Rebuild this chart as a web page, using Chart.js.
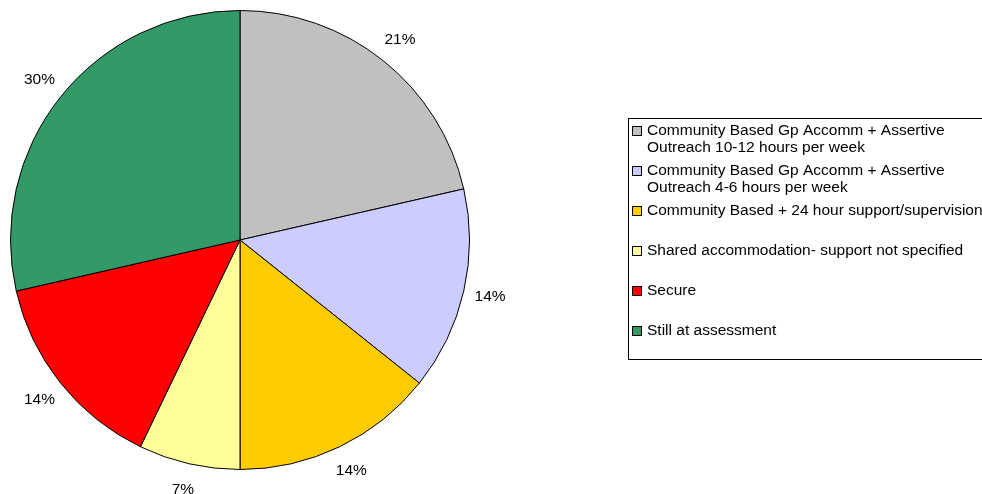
<!DOCTYPE html>
<html>
<head>
<meta charset="utf-8">
<script src="https://cdn.jsdelivr.net/npm/chart.js@4/dist/chart.umd.min.js"></script>
<style>
html,body{margin:0;padding:0;background:#fff;}
#wrap{width:982px;height:494px;position:relative;}
</style>
</head>
<body>
<div id="wrap"><canvas id="c" width="982" height="494"></canvas></div>
<script>
const categories = [
  ["Community Based Gp Accomm + Assertive", "Outreach 10-12 hours per week"],
  ["Community Based Gp Accomm + Assertive", "Outreach 4-6 hours per week"],
  ["Community Based + 24 hour support/supervision"],
  ["Shared accommodation- support not specified"],
  ["Secure"],
  ["Still at assessment"]
];
const values = [3, 2, 2, 1, 2, 4];
const percentLabels = ["21%", "14%", "14%", "7%", "14%", "30%"];
const colors = ["#C0C0C0", "#CCCCFF", "#FFCC00", "#FFFF99", "#FF0000", "#339966"];

const FONT = '15.5px "Liberation Sans", Arial, sans-serif';

const labelPlugin = {
  id: 'pctLabels',
  afterDatasetsDraw(chart) {
    const ctx = chart.ctx;
    const meta = chart.getDatasetMeta(0);
    ctx.save();
    ctx.font = FONT;
    ctx.fillStyle = '#000';
    ctx.textAlign = 'center';
    ctx.textBaseline = 'middle';
    meta.data.forEach((arc, i) => {
      const mid = (arc.startAngle + arc.endAngle) / 2;
      const r = arc.outerRadius + 27;
      const x = arc.x + Math.cos(mid) * r;
      const y = arc.y + Math.sin(mid) * r;
      ctx.fillText(percentLabels[i], x, y);
    });
    ctx.restore();
  }
};

const legendPlugin = {
  id: 'boxLegend',
  afterDraw(chart) {
    const ctx = chart.ctx;
    ctx.save();
    ctx.strokeStyle = '#000';
    ctx.lineWidth = 1;
    ctx.strokeRect(628.5, 118.5, 420, 241);
    ctx.font = FONT;
    ctx.textAlign = 'left';
    ctx.textBaseline = 'middle';
    const rowsY = [131, 171, 211, 251, 291, 331];
    categories.forEach((lines, i) => {
      const y = rowsY[i];
      ctx.fillStyle = colors[i];
      ctx.fillRect(632.5, y - 4.5, 9, 9);
      ctx.strokeStyle = '#000';
      ctx.strokeRect(632.5, y - 4.5, 9, 9);
      ctx.fillStyle = '#000';
      lines.forEach((t, j) => {
        ctx.fillText(t, 647, y + j * 17);
      });
    });
    ctx.restore();
  }
};

new Chart(document.getElementById('c'), {
  type: 'pie',
  data: {
    labels: categories.map(l => l.join(' ')),
    datasets: [{
      data: values,
      backgroundColor: colors,
      borderColor: '#000',
      borderWidth: 1
    }]
  },
  options: {
    responsive: false,
    animation: false,
    layout: { padding: { left: 10, top: 10, right: 512, bottom: 24 } },
    plugins: {
      legend: { display: false },
      tooltip: { enabled: false }
    }
  },
  plugins: [labelPlugin, legendPlugin]
});
</script>
</body>
</html>
